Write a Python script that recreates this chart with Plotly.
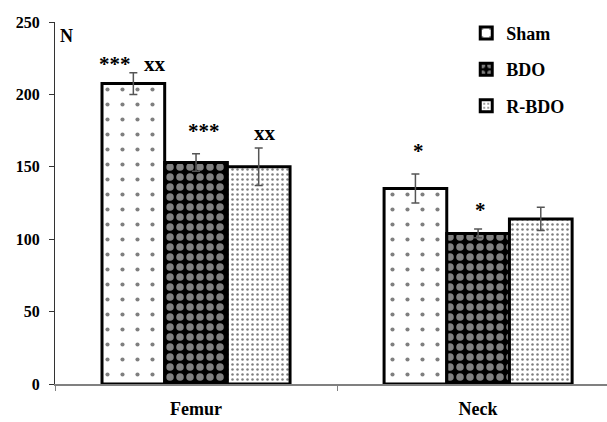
import plotly.graph_objects as go

categories = ["Femur", "Neck"]
series_names = ["Sham", "BDO", "R-BDO"]
sham_vals = [207.5, 135]
sham_err = [7.5, 10]
bdo_vals = [153, 104]
bdo_err = [6, 3]
rbdo_vals = [150, 114]
rbdo_err = [13, 8]

# significance marks: (category index offset, y, text)
sig_x = [-0.287, -0.145, 0.028, 0.245, 0.79, 1.01]
sig_y = [221, 221, 174.5, 173.5, 161, 120]
sig_text = ["***", "xx", "***", "xx", "*", "*"]

y_ticks = [0, 50, 100, 150, 200, 250]

FONT = "Liberation Serif"

patterns = [
    dict(shape=".", fgcolor="black", bgcolor="white", size=15, solidity=0.06),
    dict(shape=".", fgcolor="white", bgcolor="black", size=10, solidity=0.45),
    dict(shape=".", fgcolor="black", bgcolor="white", size=5, solidity=0.2),
]
vals = [sham_vals, bdo_vals, rbdo_vals]
errs = [sham_err, bdo_err, rbdo_err]

fig = go.Figure()
for i, name in enumerate(series_names):
    fig.add_trace(go.Bar(
        x=categories, y=vals[i], name=name, legendgroup=name,
        marker=dict(color="white", line=dict(color="black", width=3), pattern=patterns[i]),
        error_y=dict(type="data", array=errs[i], visible=True, color="#555555", thickness=1.5, width=4),
    ))

for x, y, t in zip(sig_x, sig_y, sig_text):
    fig.add_annotation(x=x, y=y, xref="x", yref="y", text=t, showarrow=False,
                       font=dict(family=FONT, size=21, color="black", weight="bold"))

fig.add_annotation(x=0.005, y=240, xref="paper", yref="y", text="N", showarrow=False,
                   xanchor="left", font=dict(family=FONT, size=18, color="black", weight="bold"))

fig.update_layout(
    width=607, height=422,
    margin=dict(l=55, r=0, t=22, b=38),
    paper_bgcolor="white", plot_bgcolor="white",
    barmode="group", bargap=1/3, bargroupgap=0,
    font=dict(family=FONT, size=18, color="black", weight="bold"),
    showlegend=True,
    legend=dict(x=0.745, y=1.02, xanchor="left", yanchor="top", tracegroupgap=10,
                font=dict(family=FONT, size=18, color="black", weight="bold"), bgcolor="rgba(0,0,0,0)",
                itemwidth=30),
    xaxis=dict(range=[-0.5, 1.457], showline=True, linecolor="#808080", linewidth=1.5,
               ticks="outside", tickson="boundaries", ticklen=5, tickcolor="#808080",
               tickfont=dict(family=FONT, size=18, color="black", weight="bold"), ticklabelstandoff=8,
               showgrid=False, zeroline=False),
    yaxis=dict(range=[0, 250], tickvals=y_ticks, showline=True, linecolor="#333333", linewidth=1.2,
               ticks="outside", ticklen=5, tickcolor="#333333", showgrid=False, zeroline=False,
               tickfont=dict(family=FONT, size=16, color="black", weight="bold"), ticklabelstandoff=6),
)

fig.write_html("out.html", config={"displayModeBar": False},
               post_script="document.body.style.margin='0';")
